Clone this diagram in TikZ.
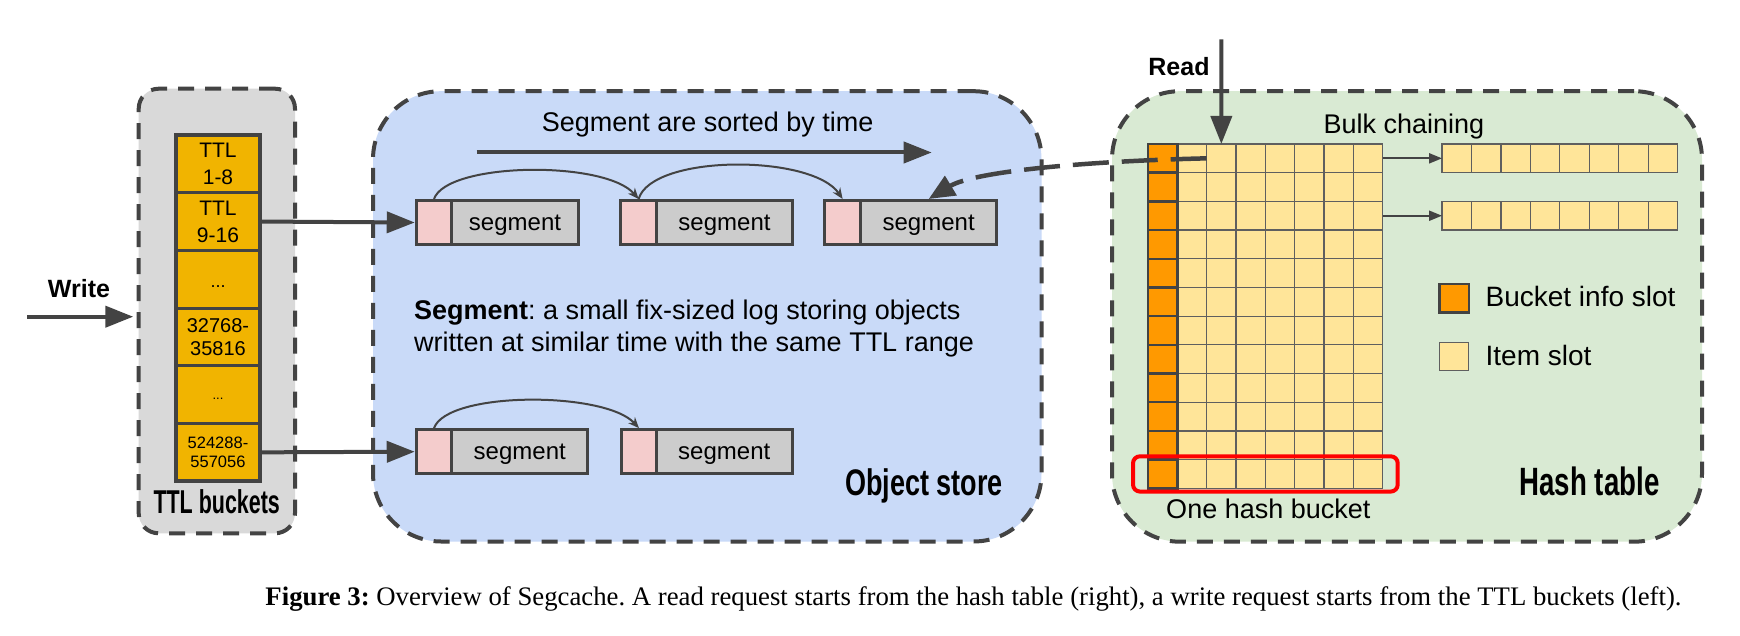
\documentclass[tikz,border=0pt]{standalone}
\usepackage{fontspec}
\setmainfont{Liberation Sans}
\newfontfamily\capfont{Liberation Serif}
\usepackage{graphicx}
\usetikzlibrary{arrows.meta,fit}
\definecolor{dark}{RGB}{67,67,67}
\definecolor{ttlgray}{RGB}{217,217,217}
\definecolor{objblue}{RGB}{201,218,248}
\definecolor{htgreen}{RGB}{217,234,211}
\definecolor{ttlyellow}{RGB}{241,180,0}
\definecolor{segpink}{RGB}{244,204,204}
\definecolor{seggray}{RGB}{204,204,204}
\definecolor{binfo}{RGB}{255,153,0}
\definecolor{islot}{RGB}{255,229,153}
\definecolor{gridline}{RGB}{95,95,95}
\newcommand{\myfs}[2]{\fontsize{#1}{#2}\selectfont}
\begin{document}
\frenchspacing
\begin{tikzpicture}[x=1pt,y=-1pt,
  region/.style={draw=dark, line width=4pt, dash pattern=on 16pt off 11pt, inner sep=0, outer sep=0},
  ttlcell/.style={draw=dark, line width=3pt, fill=ttlyellow, minimum width=84pt, minimum height=57.7pt, inner sep=0, outer sep=0, align=center},
  segp/.style={draw=dark, line width=3pt, fill=segpink, minimum width=35.5pt, minimum height=44pt, inner sep=0},
  segg/.style={draw=dark, line width=3pt, fill=seggray, minimum width=136pt, minimum height=44pt, inner sep=0, text height=16pt, text depth=0pt, font=\myfs{24}{28}},
  bigarrow/.style={draw=dark, line width=4pt, -{Triangle[length=28pt,width=21pt]}},
  linkarrow/.style={draw=dark, line width=2pt, -{Stealth[length=11pt,width=9pt]}},
  chainarrow/.style={draw=dark, line width=2pt, -{Triangle[length=13pt,width=10pt]}},
  slot/.style={draw=gridline, line width=1.2pt, fill=islot, minimum width=29.34pt, minimum height=28.69pt, inner sep=0, outer sep=0},
  infoslot/.style={draw=dark, line width=2.5pt, fill=binfo, minimum width=29.34pt, minimum height=28.69pt, inner sep=0, outer sep=0},
  txt/.style={font=\myfs{27}{32.4}, inner sep=0},
  legtxt/.style={font=\myfs{28}{32}, inner sep=0},
  boldtxt/.style={font=\bfseries\myfs{25}{28}, inner sep=0},
  regtitle/.style={inner sep=0},
]
\useasboundingbox[fill=white] (0,0) rectangle (1740,636);

% regions
\node[region, fill=ttlgray, rounded corners=20pt, minimum width=156.3pt, minimum height=444.6pt] (ttlbox) at (216.85,311) {};
\node[region, fill=objblue, rounded corners=68pt, minimum width=668.5pt, minimum height=450.3pt] (objbox) at (707.25,316.35) {};
\node[region, fill=htgreen, rounded corners=68pt, minimum width=590pt, minimum height=450.5pt] (htbox) at (1407,316.45) {};

% TTL buckets
\node[ttlcell, font=\myfs{21}{26.7}] (t1) at (218,163.85) {TTL\\1-8};
\node[ttlcell, font=\myfs{21}{26.7}] (t2) at (218,221.55) {TTL\\9-16};
\node[ttlcell, font=\myfs{18}{20}] (t3) at (218,279.25) {\rule{0pt}{17pt}...};
\node[ttlcell, font=\myfs{20}{23.3}] (t4) at (218,336.95) {32768-\\35816};
\node[ttlcell, font=\myfs{13}{15}] (t5) at (218,394.65) {\rule{0pt}{10pt}...};
\node[ttlcell, font=\myfs{16.5}{19.6}] (t6) at (218,452.35) {524288-\\557056};
\draw[dark, line width=4pt] (t1.north west) rectangle (t6.south east);
\node[regtitle, anchor=base, font=\bfseries\myfs{33}{36}] (ttllbl) at (216.7,513.3) {\scalebox{0.65}[1]{TTL buckets}};

% write
\node[boldtxt, anchor=base] (writelbl) at (79,297.7) {Write};
\coordinate (wstart) at (27,316.7);
\draw[bigarrow, shorten >=5.4pt] (wstart) -- (wstart -| ttlbox.west);

% segments
\node[segp] (s1p) at (434,222.5) {};
\node[segg, minimum width=127pt] (s1g) at (515,222.5) {segment};
\node[segp] (s2p) at (638.6,222.5) {};
\node[segg] (s2g) at (724.5,222.5) {segment};
\node[segp] (s3p) at (842.65,222.5) {};
\node[segg] (s3g) at (928.65,222.5) {segment};
\node[segp] (s4p) at (434,451.7) {};
\node[segg] (s4g) at (519.75,451.7) {segment};
\node[segp] (s5p) at (639,451.7) {};
\node[segg] (s5g) at (724.25,451.7) {segment};

\draw[bigarrow] (t2.east) -- (s1p.west);
\draw[bigarrow] (t6.east) -- (s4p.west);

\draw[linkarrow] (s1p.north) .. controls (447,162) and (605,160) .. (s2p.north);
\draw[linkarrow] (s2p.north) .. controls (652,154) and (812,154) .. (s3p.north);
\draw[linkarrow] (s4p.north) .. controls (447,391) and (605,391) .. (s5p.north);

\coordinate (sortA) at (476.7,152.5);
\coordinate (sortB) at (931.7,152.5);
\draw[bigarrow] (sortA) -- (sortB);
\node[txt, anchor=base] (sortlbl) at (707.7,131.7) {Segment are sorted by time};

\node[txt, anchor=west, align=left] (segdesc) at (414,328.7) {\textbf{Segment}: a small fix-sized log storing objects\\written at similar time with the same TTL range};

\node[regtitle, anchor=base, font=\bfseries\myfs{37}{40}] (objlbl) at (924,495) {\scalebox{0.73}[1]{Object store}};

% hash table
\foreach \r in {1,...,12} {
  \foreach \c in {1,...,7} {
    \node[slot] (c-\r-\c) at ({1148+29.34*(\c+0.5)}, {144+28.69*(\r-0.5)}) {};
  }
}
\foreach \r in {1,...,12} {
  \node[infoslot] (c-\r-0) at ({1148+29.34*0.5}, {144+28.69*(\r-0.5)}) {};
}
\foreach \k in {1,...,8} {
  \node[slot] (b1-\k) at ({1442+29.45*(\k-0.5)}, {144+28.69*0.5}) {};
  \node[slot] (b2-\k) at ({1442+29.45*(\k-0.5)}, {144+28.69*2.5}) {};
}
\draw[chainarrow] (c-1-7.east) -- (b1-1.west);
\draw[chainarrow] (c-3-7.east) -- (b2-1.west);
\node[txt, anchor=base] (bulklbl) at (1404,133.3) {Bulk chaining};

\coordinate (rstart) at (1221.35,39.3);
\draw[bigarrow] (rstart) -- (c-1-2.north);
\node[boldtxt, anchor=base] (readlbl) at (1179,75.7) {Read};

\draw[dark, line width=4.5pt, dash pattern=on 36pt off 13pt, -{Triangle[length=26pt,width=22pt]}] (c-1-2.west) .. controls (1090,161) and (975,171) .. (s3g.north);

\node[infoslot] (leg1) at (1454.2,298.3) {};
\node[slot] (leg2) at (1454.2,356.5) {};
\node[legtxt, anchor=base west] (leg1lbl) at (1485.4,306) {Bucket info slot};
\node[legtxt, anchor=base west] (leg2lbl) at (1485.4,365) {Item slot};

\node[draw=red, line width=4pt, rounded corners=7pt, inner xsep=15pt, inner ysep=3.3pt, fit=(c-12-0)(c-12-7)] (bucket) {};
\node[txt, anchor=base] (bucketlbl) at (1268.3,518.3) {One hash bucket};

\node[regtitle, anchor=base, font=\bfseries\myfs{39.5}{42}] (htlbl) at (1589.5,495.3) {\scalebox{0.70}[1]{Hash table}};

% caption
\node[inner sep=0, anchor=base east, font=\capfont\myfs{26.75}{30}] (caption) at (1681.7,605) {\textbf{Figure 3:} Overview of Segcache. A read request starts from the hash table (right), a write request starts from the TTL buckets (left).};
\end{tikzpicture}
\end{document}
